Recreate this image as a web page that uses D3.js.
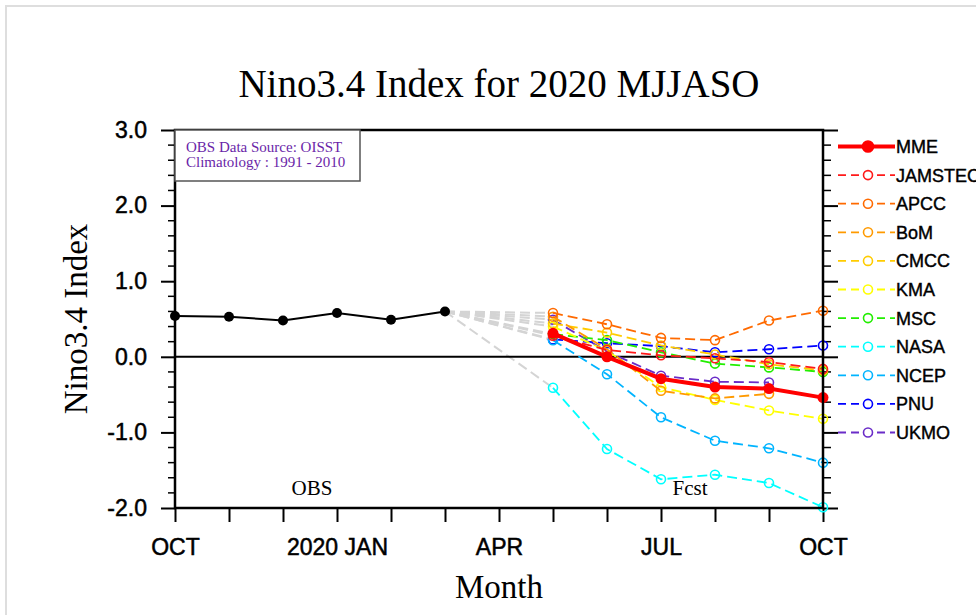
<!DOCTYPE html>
<html>
<head>
<meta charset="utf-8">
<script src="https://cdn.jsdelivr.net/npm/d3@7"></script>
<style>
	body { margin: 0; background: #fff; }
	svg { display: block; }
	.tick-label { font-family: "Liberation Sans", Arial, sans-serif; font-size: 23px; fill: #000; stroke: #000; stroke-width: 0.5px; }
	.serif { font-family: "Liberation Serif", "Times New Roman", serif; fill: #000; }
	.legend-label { font-family: "Liberation Sans", Arial, sans-serif; font-size: 18px; fill: #000; stroke: #000; stroke-width: 0.4px; }
</style>
</head>
<body>
<div id="chart"></div>
<script>
// Nino3.4 index: observed months followed by the MJJASO model forecasts

const width = 976;
const height = 615;
const margin = {top: 130, right: 153, bottom: 107, left: 175};

// month axis runs from OCT 2019 (0) to OCT 2020 (12)
const months = ["OCT", "NOV", "DEC", "2020 JAN", "FEB", "MAR", "APR", "MAY", "JUN", "JUL", "AUG", "SEP", "OCT"];
const xTickMonths = [0, 3, 6, 9, 12];
const xTickLabels = ["OCT", "2020 JAN", "APR", "JUL", "OCT"];
const yTicks = [3, 2, 1, 0, -1, -2];
const yTickLabels = ["3.0", "2.0", "1.0", "0.0", "-1.0", "-2.0"];

// observations OCT..MAR
const obsValues = [0.54, 0.53, 0.48, 0.58, 0.49, 0.60];
// forecasts start at MAY (month 7)
const fcstStart = 7;

const modelNames = ["MME", "JAMSTEC", "APCC", "BoM", "CMCC", "KMA", "MSC", "NASA", "NCEP", "PNU", "UKMO"];
const modelColors = ["#ff0000", "#ff1a1a", "#ff6a00", "#ff9a00", "#ffcc00", "#ffff00", "#22ee00", "#00ffff", "#00b4ff", "#0000ff", "#6a2cc8"];

const mme     = [0.31, 0.00, -0.29, -0.40, -0.42, -0.54];
const jamstec = [0.28, 0.09, 0.02, -0.02, -0.07, -0.16];
const apcc    = [0.58, 0.43, 0.25, 0.22, 0.48, 0.61];
const bom     = [0.53, 0.10, -0.45, -0.55, -0.49];
const cmcc    = [0.44, 0.32, 0.15, 0.03, -0.10, -0.18];
const kma     = [0.40, 0.08, -0.40, -0.57, -0.71, -0.82];
const msc     = [0.30, 0.22, 0.06, -0.09, -0.14, -0.20];
const nasa    = [-0.41, -1.22, -1.62, -1.56, -1.67, -1.99];
const ncep    = [0.22, -0.23, -0.80, -1.11, -1.21, -1.40];
const pnu     = [0.23, 0.18, 0.14, 0.06, 0.10, 0.15];
const ukmo    = [0.49, 0.07, -0.25, -0.33, -0.34];

const modelValues = [mme, jamstec, apcc, bom, cmcc, kma, msc, nasa, ncep, pnu, ukmo];

let models = modelNames.map((name, i) => ({
	name: name,
	color: modelColors[i],
	points: modelValues[i].map((v, j) => ({m: fcstStart + j, v: v}))
}));

function drawChart() {
	let svg = d3.select("#chart")
		.append("svg")
		.attr("width", width)
		.attr("height", height)
		.attr("viewBox", [0, 0, width, height]);

	// faint page frame
	svg.append("path")
		.attr("d", `M6,${height} V6 H${width}`)
		.attr("fill", "none")
		.attr("stroke", "#dedede")
		.attr("stroke-width", 2);

	let x = d3.scaleLinear()
		.domain([0, months.length - 1])
		.range([margin.left, width - margin.right]);

	let y = d3.scaleLinear()
		.domain([-2, 3])
		.range([height - margin.bottom, margin.top]);

	let line = d3.line()
		.x(d => x(d.m))
		.y(d => y(d.v));

	const minorY = d3.range(-2, 3.001, 0.2).filter(v => Math.abs(v - Math.round(v)) > 1e-6);

	// left axis: outward ticks
	let yAxisLeft = g => g
		.attr("transform", `translate(${margin.left},0)`)
		.call(d3.axisLeft(y).tickValues(yTicks).tickSize(14).tickFormat((d, i) => yTickLabels[i]).tickPadding(14))
		.call(g => g.select(".domain").remove())
		.call(g => g.selectAll(".tick line").attr("stroke-width", 2))
		.call(g => g.selectAll(".tick text").attr("class", "tick-label").attr("font-size", null).attr("font-family", null))
		.call(g => g.append("g")
			.selectAll("line")
			.data(minorY)
			.join("line")
			.attr("x1", -7)
			.attr("x2", 0)
			.attr("y1", d => y(d))
			.attr("y2", d => y(d))
			.attr("stroke", "#000")
			.attr("stroke-width", 1.5));

	let yAxisRight = g => g
		.attr("transform", `translate(${width - margin.right},0)`)
		.call(d3.axisRight(y).tickValues(yTicks).tickSize(15).tickFormat(""))
		.call(g => g.select(".domain").remove())
		.call(g => g.selectAll(".tick line").attr("stroke-width", 2))
		.call(g => g.append("g")
			.selectAll("line")
			.data(minorY)
			.join("line")
			.attr("x1", 0)
			.attr("x2", 8)
			.attr("y1", d => y(d))
			.attr("y2", d => y(d))
			.attr("stroke", "#000")
			.attr("stroke-width", 1.5));

	let xAxis = g => g
		.attr("transform", `translate(0,${height - margin.bottom})`)
		.call(d3.axisBottom(x).tickValues(d3.range(months.length)).tickSize(14).tickPadding(17)
			.tickFormat(d => {
				let k = xTickMonths.indexOf(d);
				return k >= 0 ? xTickLabels[k] : "";
			}))
		.call(g => g.select(".domain").remove())
		.call(g => g.selectAll(".tick line").attr("stroke-width", 2))
		.call(g => g.selectAll(".tick text").attr("class", "tick-label").attr("font-size", null).attr("font-family", null));

	svg.append("g").call(yAxisLeft);
	svg.append("g").call(yAxisRight);
	svg.append("g").call(xAxis);

	// grey connectors from the last observation to each forecast start
	const lastObs = {m: obsValues.length - 1, v: obsValues[obsValues.length - 1]};
	svg.append("g")
		.selectAll("path")
		.data(models.slice(1))
		.join("path")
		.attr("d", d => line([lastObs, d.points[0]]))
		.attr("fill", "none")
		.attr("stroke", "#d4d4d4")
		.attr("stroke-width", 2)
		.attr("stroke-dasharray", "10,5");

	// zero line
	svg.append("line")
		.attr("x1", x(0))
		.attr("x2", x(months.length - 1))
		.attr("y1", y(0))
		.attr("y2", y(0))
		.attr("stroke", "#000")
		.attr("stroke-width", 2);

	// individual models, drawn bottom of legend first
	let modelg = svg.append("g")
		.selectAll("g")
		.data(models.slice(1).reverse())
		.join("g");

	modelg.append("path")
		.attr("d", d => line(d.points))
		.attr("fill", "none")
		.attr("stroke", d => d.color)
		.attr("stroke-width", 1.8)
		.attr("stroke-dasharray", "10,5");

	modelg.selectAll("circle")
		.data(d => d.points.map(p => ({...p, color: d.color})))
		.join("circle")
		.attr("cx", d => x(d.m))
		.attr("cy", d => y(d.v))
		.attr("r", 4.5)
		.attr("fill", "none")
		.attr("stroke", d => d.color)
		.attr("stroke-width", 1.6);

	// ensemble mean
	let mmeModel = models[0];
	svg.append("path")
		.datum(mmeModel.points)
		.attr("d", line)
		.attr("fill", "none")
		.attr("stroke", mmeModel.color)
		.attr("stroke-width", 4);

	svg.append("g")
		.selectAll("circle")
		.data(mmeModel.points)
		.join("circle")
		.attr("cx", d => x(d.m))
		.attr("cy", d => y(d.v))
		.attr("r", 5.5)
		.attr("fill", mmeModel.color);

	// observations
	let obsPoints = obsValues.map((v, i) => ({m: i, v: v}));
	svg.append("path")
		.datum(obsPoints)
		.attr("d", line)
		.attr("fill", "none")
		.attr("stroke", "#000")
		.attr("stroke-width", 2);

	svg.append("g")
		.selectAll("circle")
		.data(obsPoints)
		.join("circle")
		.attr("cx", d => x(d.m))
		.attr("cy", d => y(d.v))
		.attr("r", 5)
		.attr("fill", "#000");

	// plot frame
	svg.append("rect")
		.attr("x", x(0))
		.attr("y", y(3))
		.attr("width", x(months.length - 1) - x(0))
		.attr("height", y(-2) - y(3))
		.attr("fill", "none")
		.attr("stroke", "#000")
		.attr("stroke-width", 2.5);

	// data source box
	svg.append("rect")
		.attr("x", x(0))
		.attr("y", y(3))
		.attr("width", 185)
		.attr("height", 51)
		.attr("fill", "#fff")
		.attr("stroke", "#555")
		.attr("stroke-width", 1.5);

	svg.append("text")
		.attr("class", "serif")
		.attr("x", x(0) + 11)
		.attr("y", y(3) + 22)
		.attr("font-size", 15)
		.style("fill", "#6a1fa8")
		.text("OBS Data Source: OISST");

	svg.append("text")
		.attr("class", "serif")
		.attr("x", x(0) + 11)
		.attr("y", y(3) + 37)
		.attr("font-size", 15)
		.style("fill", "#6a1fa8")
		.text("Climatology : 1991 - 2010");

	svg.append("text")
		.attr("class", "serif")
		.attr("x", 312)
		.attr("y", 495)
		.attr("text-anchor", "middle")
		.attr("font-size", 21)
		.text("OBS");

	svg.append("text")
		.attr("class", "serif")
		.attr("x", 690)
		.attr("y", 495)
		.attr("text-anchor", "middle")
		.attr("font-size", 21)
		.text("Fcst");

	// titles
	svg.append("text")
		.attr("class", "serif")
		.attr("x", (x(0) + x(months.length - 1)) / 2)
		.attr("y", 97)
		.attr("text-anchor", "middle")
		.attr("font-size", 39)
		.text("Nino3.4 Index for 2020 MJJASO");

	svg.append("text")
		.attr("class", "serif")
		.attr("x", (x(0) + x(months.length - 1)) / 2)
		.attr("y", 598)
		.attr("text-anchor", "middle")
		.attr("font-size", 33)
		.text("Month");

	svg.append("text")
		.attr("class", "serif")
		.attr("transform", `translate(87,${(y(3) + y(-2)) / 2}) rotate(-90)`)
		.attr("text-anchor", "middle")
		.attr("font-size", 33)
		.text("Nino3.4 Index");

	// legend
	let legend = svg.append("g")
		.selectAll("g")
		.data(models)
		.join("g")
		.attr("transform", (d, i) => `translate(838,${146.5 + i * 28.6})`);

	legend.append("line")
		.attr("x1", 0)
		.attr("x2", 57)
		.attr("stroke", d => d.color)
		.attr("stroke-width", (d, i) => i === 0 ? 4 : 1.8)
		.attr("stroke-dasharray", (d, i) => i === 0 ? null : "8,5");

	legend.append("circle")
		.attr("cx", 30)
		.attr("r", (d, i) => i === 0 ? 5.5 : 4.5)
		.attr("fill", (d, i) => i === 0 ? d.color : "#fff")
		.attr("stroke", d => d.color)
		.attr("stroke-width", 1.6);

	legend.append("text")
		.attr("class", "legend-label")
		.attr("x", 58)
		.attr("dy", "0.36em")
		.text(d => d.name);
}

drawChart();
</script>
</body>
</html>
